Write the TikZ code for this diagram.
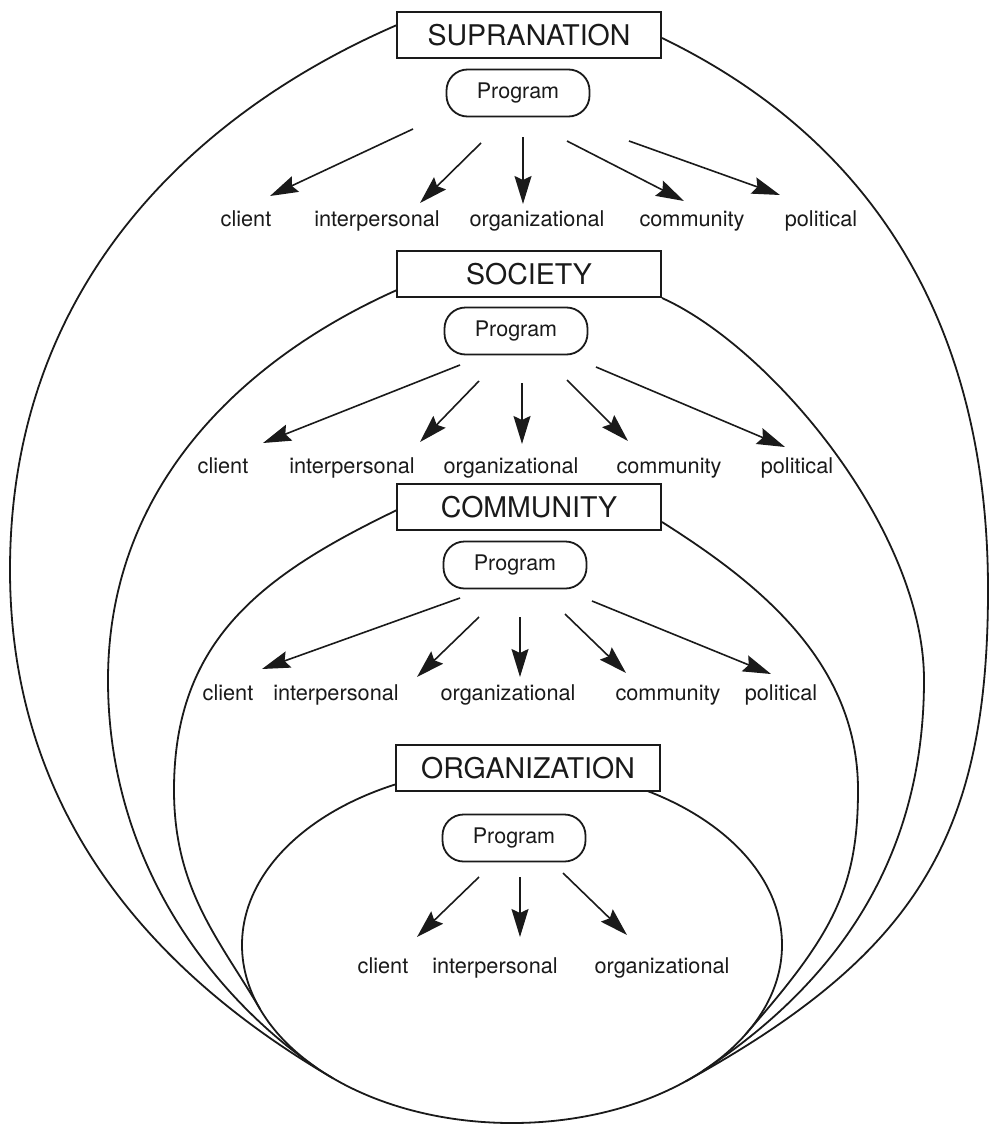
\documentclass[tikz,border=0pt]{standalone}
\usepackage{fontspec}
\setmainfont{TeX Gyre Heros}
\usetikzlibrary{arrows.meta}
\definecolor{ink}{HTML}{1A1A1A}
\begin{document}
\begin{tikzpicture}[x=1pt,y=-1pt,
  curve/.style={line width=1.8pt, draw=ink},
  titlebox/.style={draw=ink, text=ink, line width=2pt, fill=white, minimum width=264pt, minimum height=46pt, inner sep=0pt, font=\fontsize{28.5}{30}\selectfont},
  prog/.style={draw=ink, text=ink, line width=1.8pt, fill=white, rounded corners=21pt, minimum width=143pt, minimum height=47pt, inner sep=0pt, font=\fontsize{21.5}{24}\selectfont},
  lab/.style={anchor=base, inner sep=0pt, text=ink, font=\fontsize{21.7}{24}\selectfont},
  arr/.style={line width=1.6pt, draw=ink, -{Stealth[length=28pt,width=17pt,inset=4pt]}}
]
\useasboundingbox (0,0) rectangle (990,1124);
\fill[white] (0,0) rectangle (990,1124);

% ---- curve anchor points ----
\coordinate (opl) at (397,25);   \coordinate (ol) at (10,570);   \coordinate (oml) at (333.1,1078.3);
\coordinate (opr) at (662,38);   \coordinate (or) at (988,590);  \coordinate (omr) at (685.6,1081.4);
\coordinate (spl) at (397,290);  \coordinate (sl) at (108,680);  \coordinate (sml) at (317,1068.2);
\coordinate (spr) at (662,298);  \coordinate (sr) at (924,680);  \coordinate (smr) at (702.9,1070.9);
\coordinate (cpl) at (397,510);  \coordinate (cl) at (174,790);  \coordinate (cml) at (260.1,1009.1);
\coordinate (cpr) at (662,522);  \coordinate (cr) at (858,790);  \coordinate (cmr) at (745.8,1034);

% SUPRANATION curve
\draw[curve] (opl) .. controls (214,104) and (10,270) .. (ol) .. controls (10,820) and (160.3,977.5) .. (oml);
\draw[curve] (opr) .. controls (842,125) and (988,290) .. (or) .. controls (988,840) and (913.1,955.6) .. (omr);
% SOCIETY curve
\draw[curve] (spl) .. controls (251,355) and (108,480) .. (sl) .. controls (108,860) and (209.9,994.5) .. (sml);
\draw[curve] (spr) .. controls (771,347) and (924,530) .. (sr) .. controls (924,850) and (844.9,977.4) .. (smr);
% COMMUNITY curve
\draw[curve] (cpl) .. controls (262,575) and (174,640) .. (cl) .. controls (174,890) and (219.7,940.1) .. (cml);
\draw[curve] (cpr) .. controls (755,581) and (858,660) .. (cr) .. controls (858,890) and (831.5,936.2) .. (cmr);
% ORGANIZATION ellipse
\draw[curve] (512,945) ellipse [x radius=270, y radius=178];

% ---- title boxes ----
\node[titlebox] (supra) at (529,35)  {SUPRANATION};
\node[titlebox] (soc)   at (529,274) {SOCIETY};
\node[titlebox] (comm)  at (529,507) {COMMUNITY};
\node[titlebox] (org)   at (528,768) {ORGANIZATION};

% ---- program nodes ----
\node[prog] (prog1) at (518,93)  {Program};
\node[prog] (prog2) at (516,331) {Program};
\node[prog] (prog3) at (515,565) {Program};
\node[prog] (prog4) at (514,838) {Program};

% ---- level 1 ----
\node[lab] (a1) at (246,226) {client};
\node[lab] (a2) at (377,226) {interpersonal};
\node[lab] (a3) at (537,226) {organizational};
\node[lab] (a4) at (692,226) {community};
\node[lab] (a5) at (821,226) {political};
\coordinate (a1s) at (413,129); \coordinate (a1t) at (270,196);
\coordinate (a2s) at (481,143); \coordinate (a2t) at (420,203);
\coordinate (a3s) at (523,137); \coordinate (a3t) at (523,204);
\coordinate (a4s) at (567,141); \coordinate (a4t) at (684,201);
\coordinate (a5s) at (629,141); \coordinate (a5t) at (780,195);
\foreach \i in {1,...,5} \draw[arr] (a\i s) -- (a\i t);

% ---- level 2 ----
\node[lab] (b1) at (223,473) {client};
\node[lab] (b2) at (352,473) {interpersonal};
\node[lab] (b3) at (511,473) {organizational};
\node[lab] (b4) at (669,473) {community};
\node[lab] (b5) at (797,473) {political};
\coordinate (b1s) at (460,365); \coordinate (b1t) at (263,443);
\coordinate (b2s) at (479,381); \coordinate (b2t) at (420,442);
\coordinate (b3s) at (522,383); \coordinate (b3t) at (522,444);
\coordinate (b4s) at (567,380); \coordinate (b4t) at (628,441);
\coordinate (b5s) at (596,367); \coordinate (b5t) at (785,447);
\foreach \i in {1,...,5} \draw[arr] (b\i s) -- (b\i t);

% ---- level 3 ----
\node[lab] (c1) at (228,700) {client};
\node[lab] (c2) at (336,700) {interpersonal};
\node[lab] (c3) at (508,700) {organizational};
\node[lab] (c4) at (668,700) {community};
\node[lab] (c5) at (781,700) {political};
\coordinate (c1s) at (460,598); \coordinate (c1t) at (262,669);
\coordinate (c2s) at (479,617); \coordinate (c2t) at (417,677);
\coordinate (c3s) at (520,617); \coordinate (c3t) at (520,677);
\coordinate (c4s) at (565,614); \coordinate (c4t) at (626,673);
\coordinate (c5s) at (592,601); \coordinate (c5t) at (771,674);
\foreach \i in {1,...,5} \draw[arr] (c\i s) -- (c\i t);

% ---- level 4 ----
\node[lab] (d1) at (383,973) {client};
\node[lab] (d2) at (495,973) {interpersonal};
\node[lab] (d3) at (662,973) {organizational};
\coordinate (d1s) at (479,877); \coordinate (d1t) at (417,937);
\coordinate (d2s) at (520,877); \coordinate (d2t) at (520,937);
\coordinate (d3s) at (563,873); \coordinate (d3t) at (627,935);
\foreach \i in {1,...,3} \draw[arr] (d\i s) -- (d\i t);
\end{tikzpicture}
\end{document}
